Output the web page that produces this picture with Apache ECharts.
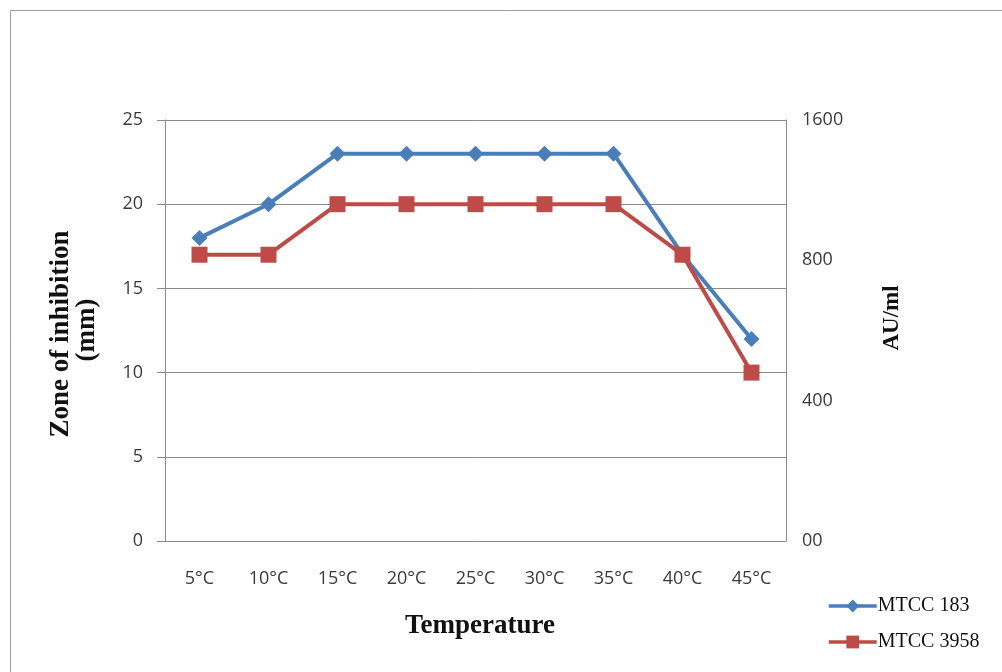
<!DOCTYPE html>
<html>
<head>
<meta charset="utf-8">
<script src="https://cdn.jsdelivr.net/npm/echarts@6/dist/echarts.min.js"></script>
<style>
  html, body { margin: 0; padding: 0; background: #fff; }
  #chart { width: 1002px; height: 672px; }
</style>
</head>
<body>
<div id="chart"></div>
<script>
// Temperature categories along the x axis
const temperatures = ['5°C', '10°C', '15°C', '20°C', '25°C', '30°C', '35°C', '40°C', '45°C'];
// Zone of inhibition (mm) for each strain
const mtcc183 = [18, 20, 23, 23, 23, 23, 23, 17, 12];
const mtcc3958 = [17, 17, 20, 20, 20, 20, 20, 17, 10];
// Secondary axis (AU/ml): evenly spaced doubling steps, printed labels bottom to top
const auLabels = ['00', '400', '800', '1600'];

const tickFont = '"Open Sans", "Noto Sans", sans-serif';
const serif = '"Liberation Serif", "DejaVu Serif", serif';
const gridColor = '#8a8a8a';
const tickColor = '#3a3a3a';

const chart = echarts.init(document.getElementById('chart'), null, { renderer: 'canvas' });

chart.setOption({
  backgroundColor: '#ffffff',
  animation: false,
  grid: { left: 165, right: 216, top: 120, bottom: 131, containLabel: false },
  graphic: [
    {
      type: 'rect',
      shape: { x: 10.5, y: 10.5, width: 1000, height: 700 },
      style: { fill: 'none', stroke: '#9a9a9a', lineWidth: 1 },
      silent: true
    },
    {
      type: 'text',
      x: 61, y: 334, rotation: Math.PI / 2,
      style: {
        text: 'Zone of inhibition', font: 'bold 27px ' + serif,
        fill: '#111', align: 'center', verticalAlign: 'middle'
      }
    },
    {
      type: 'text',
      x: 87, y: 330, rotation: Math.PI / 2,
      style: {
        text: '(mm)', font: 'bold 27px ' + serif,
        fill: '#111', align: 'center', verticalAlign: 'middle'
      }
    },
    {
      type: 'text',
      x: 892, y: 318, rotation: Math.PI / 2,
      style: {
        text: 'AU/ml', font: 'bold 23px ' + serif,
        fill: '#111', align: 'center', verticalAlign: 'middle'
      }
    },
    {
      type: 'text',
      x: 480, y: 626,
      style: {
        text: 'Temperature', font: 'bold 27px ' + serif,
        fill: '#111', align: 'center', verticalAlign: 'middle'
      }
    }
  ],
  legend: {
    orient: 'vertical',
    left: 822,
    top: 591,
    itemWidth: 48,
    itemHeight: 16,
    itemGap: 16,
    lineStyle: { width: 3.5 },
    textStyle: { fontFamily: serif, fontSize: 20, color: '#111', padding: [0, 0, 0, -4] },
    data: ['MTCC 183', 'MTCC 3958']
  },
  xAxis: {
    type: 'category',
    data: temperatures,
    boundaryGap: true,
    axisLine: { show: true, lineStyle: { color: gridColor, width: 1 } },
    axisTick: { show: false },
    axisLabel: { fontFamily: tickFont, fontSize: 18, color: tickColor, margin: 29 }
  },
  yAxis: [
    {
      type: 'value',
      min: 0, max: 25, interval: 5,
      position: 'left',
      axisLine: { show: true, lineStyle: { color: gridColor, width: 1 } },
      axisTick: { show: true, length: 8, lineStyle: { color: gridColor } },
      axisLabel: { fontFamily: tickFont, fontSize: 18, color: tickColor, margin: 22 },
      splitLine: { show: true, lineStyle: { color: gridColor, width: 1 } }
    },
    {
      type: 'value',
      min: 0, max: auLabels.length - 1, interval: 1,
      position: 'right',
      axisLine: { show: true, lineStyle: { color: gridColor, width: 1 } },
      axisTick: { show: false },
      splitLine: { show: false },
      axisLabel: {
        fontFamily: tickFont, fontSize: 18, color: tickColor, margin: 16,
        formatter: function (v) {
          return auLabels[Math.round(v)] || '';
        }
      }
    }
  ],
  series: [
    {
      name: 'MTCC 183',
      type: 'line',
      yAxisIndex: 0,
      data: mtcc183,
      symbol: 'diamond',
      symbolSize: 16,
      lineStyle: { color: '#4a7ebb', width: 4 },
      itemStyle: { color: '#4a7ebb' },
      z: 2
    },
    {
      name: 'MTCC 3958',
      type: 'line',
      yAxisIndex: 0,
      data: mtcc3958,
      symbol: 'rect',
      symbolSize: 16,
      lineStyle: { color: '#be4b48', width: 4 },
      itemStyle: { color: '#be4b48' },
      z: 3
    }
  ]
});
</script>
</body>
</html>
